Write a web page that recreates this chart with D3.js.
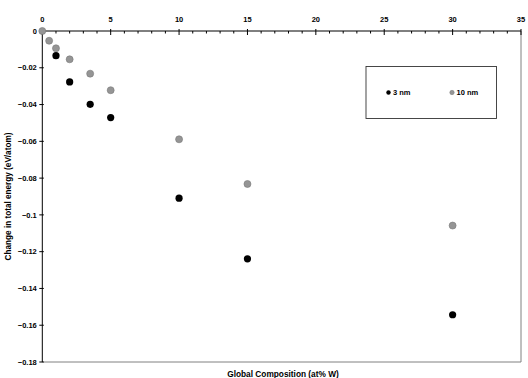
<!DOCTYPE html>
<html><head><meta charset="utf-8">
<script src="https://cdn.jsdelivr.net/npm/d3@7"></script>
<style>body{margin:0;background:#fff}svg{display:block;font-family:"Liberation Sans",Arial,sans-serif;font-weight:bold}</style>
</head><body><svg id="c" width="528" height="378"></svg>
<script>
const seriesNames = ["3 nm", "10 nm"];
const comp3nm = [1, 2, 3.5, 5, 10, 15, 30];
const energy3nm = [-0.0134, -0.0277, -0.0399, -0.0471, -0.0909, -0.1239, -0.1543];
const comp10nm = [0, 0.5, 1, 2, 3.5, 5, 10, 15, 30];
const energy10nm = [0, -0.0053, -0.0094, -0.0154, -0.0232, -0.0322, -0.0589, -0.0832, -0.1058];
const xTicks = [0, 5, 10, 15, 20, 25, 30, 35];
const yTicks = [0, -0.02, -0.04, -0.06, -0.08, -0.1, -0.12, -0.14, -0.16, -0.18];
const xTitle = "Global Composition (at% W)";
const yTitle = "Change in total energy (eV/atom)";

const svg = d3.select("#c");
const L = 42.3, R = 521, T = 31, B = 362;
const x = d3.scaleLinear().domain([0, 35]).range([L, R]);
const y = d3.scaleLinear().domain([0, -0.18]).range([T, B]);

// plot border (right & bottom grey)
svg.append("path").attr("d", `M${R},${T}V${B}H${L}`).attr("fill","none").attr("stroke","#808080").attr("stroke-width",1);

// x axis at top
const gx = svg.append("g").attr("transform", `translate(0,${T})`);
gx.append("line").attr("x1", L).attr("x2", R).attr("stroke", "#000");
gx.selectAll(".mn").data(d3.range(0, 36, 1)).join("line")
  .attr("x1", d => x(d)).attr("x2", d => x(d))
  .attr("y1", d => d % 5 === 0 ? -2 : 0).attr("y2", d => d % 5 === 0 ? 4 : 2.5)
  .attr("stroke", "#000");
gx.selectAll("text").data(xTicks).join("text")
  .attr("x", d => x(d)).attr("y", -9).attr("text-anchor", "middle")
  .attr("font-size", 7.5).text(d => d);

// y axis at left
const gy = svg.append("g").attr("transform", `translate(${L},0)`);
gy.append("line").attr("y1", T).attr("y2", B).attr("stroke", "#000");
gy.selectAll(".t").data(yTicks).join("line")
  .attr("x1", -3).attr("x2", 1.5).attr("y1", d => y(d)).attr("y2", d => y(d)).attr("stroke", "#000");
gy.selectAll("text").data(yTicks).join("text")
  .attr("x", -5.5).attr("y", d => y(d)).attr("dy", "0.35em").attr("text-anchor", "end")
  .attr("font-size", 7.5).text(d => d === 0 ? "0" : d3.format("")(d));

// titles
svg.append("text").attr("x", 283).attr("y", 377).attr("text-anchor", "middle").attr("font-size", 8.3).text(xTitle);
svg.append("text").attr("transform", `translate(10.8,${(T + B) / 2}) rotate(-90)`).attr("text-anchor", "middle").attr("font-size", 8.2).text(yTitle);

// data
svg.append("g").selectAll("circle").data(comp10nm.map((c, i) => [c, energy10nm[i]])).join("circle")
  .attr("cx", d => x(d[0])).attr("cy", d => y(d[1])).attr("r", 3.5)
  .attr("fill", "#959595").attr("stroke", "#787878").attr("stroke-width", 0.6);
svg.append("g").selectAll("circle").data(comp3nm.map((c, i) => [c, energy3nm[i]])).join("circle")
  .attr("cx", d => x(d[0])).attr("cy", d => y(d[1])).attr("r", 3.6).attr("fill", "#000");

// legend
const lg = svg.append("g");
lg.append("rect").attr("x", 366).attr("y", 66.5).attr("width", 130.5).attr("height", 52)
  .attr("fill", "#fff").attr("stroke", "#333").attr("stroke-width", 0.9);
const legendItems = [{n: seriesNames[0], cx: 388.5, fill: "#000", stroke: "none"}, {n: seriesNames[1], cx: 452, fill: "#959595", stroke: "#787878"}];
legendItems.forEach(it => {
  lg.append("circle").attr("cx", it.cx).attr("cy", 92.5).attr("r", 2.2).attr("fill", it.fill).attr("stroke", it.stroke).attr("stroke-width", 0.5);
  lg.append("text").attr("x", it.cx + 4.5).attr("y", 92.5).attr("dy", "0.35em").attr("font-size", 7.5).text(it.n);
});
</script></body></html>
